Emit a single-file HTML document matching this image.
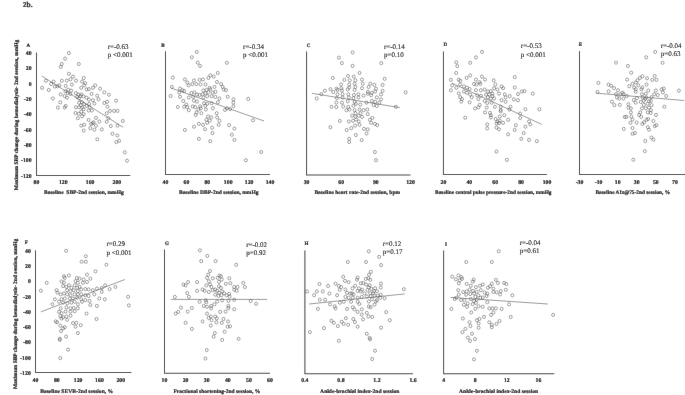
<!DOCTYPE html>
<html><head><meta charset="utf-8"><title>Figure 2b</title>
<style>html,body{margin:0;padding:0;background:#fff;}svg{display:block;filter:grayscale(1);}</style></head>
<body><svg width="685" height="395" viewBox="0 0 685 395" font-family='"Liberation Serif", serif' fill="#111" text-rendering="geometricPrecision">
<defs><filter id="b" x="0" y="0" width="1" height="1" filterUnits="objectBoundingBox"><feConvolveMatrix order="3" kernelMatrix="0.0016 0.0371 0.0016 0.0371 0.8450 0.0371 0.0016 0.0371 0.0016" edgeMode="duplicate"/></filter></defs>
<g filter="url(#b)"><rect width="685" height="395" fill="#fff"/>
<g fill="none" stroke="#444" stroke-width="0.5"><ellipse cx="68.9" cy="53.0" rx="1.5" ry="1.6"/><ellipse cx="65.1" cy="58.6" rx="1.5" ry="1.6"/><ellipse cx="61.8" cy="64.0" rx="1.5" ry="1.6"/><ellipse cx="60.7" cy="66.8" rx="1.5" ry="1.6"/><ellipse cx="78.8" cy="64.0" rx="1.5" ry="1.6"/><ellipse cx="68.9" cy="73.8" rx="1.5" ry="1.6"/><ellipse cx="73.0" cy="76.6" rx="1.5" ry="1.6"/><ellipse cx="83.7" cy="78.0" rx="1.5" ry="1.6"/><ellipse cx="70.5" cy="79.3" rx="1.5" ry="1.6"/><ellipse cx="66.8" cy="80.6" rx="1.5" ry="1.6"/><ellipse cx="76.0" cy="80.6" rx="1.5" ry="1.6"/><ellipse cx="61.8" cy="80.8" rx="1.5" ry="1.6"/><ellipse cx="45.9" cy="80.8" rx="1.5" ry="1.6"/><ellipse cx="53.6" cy="81.6" rx="1.5" ry="1.6"/><ellipse cx="51.1" cy="84.0" rx="1.5" ry="1.6"/><ellipse cx="57.4" cy="86.2" rx="1.5" ry="1.6"/><ellipse cx="59.5" cy="85.4" rx="1.5" ry="1.6"/><ellipse cx="54.9" cy="86.5" rx="1.5" ry="1.6"/><ellipse cx="82.1" cy="81.6" rx="1.5" ry="1.6"/><ellipse cx="85.3" cy="83.2" rx="1.5" ry="1.6"/><ellipse cx="84.2" cy="85.4" rx="1.5" ry="1.6"/><ellipse cx="71.9" cy="84.5" rx="1.5" ry="1.6"/><ellipse cx="65.6" cy="85.9" rx="1.5" ry="1.6"/><ellipse cx="42.1" cy="87.8" rx="1.5" ry="1.6"/><ellipse cx="48.8" cy="90.0" rx="1.5" ry="1.6"/><ellipse cx="52.9" cy="98.5" rx="1.5" ry="1.6"/><ellipse cx="57.9" cy="107.6" rx="1.5" ry="1.6"/><ellipse cx="95.2" cy="85.4" rx="1.5" ry="1.6"/><ellipse cx="100.1" cy="88.7" rx="1.5" ry="1.6"/><ellipse cx="104.3" cy="92.4" rx="1.5" ry="1.6"/><ellipse cx="108.9" cy="94.7" rx="1.5" ry="1.6"/><ellipse cx="97.2" cy="95.7" rx="1.5" ry="1.6"/><ellipse cx="60.7" cy="94.4" rx="1.5" ry="1.6"/><ellipse cx="60.3" cy="102.3" rx="1.5" ry="1.6"/><ellipse cx="98.5" cy="99.3" rx="1.5" ry="1.6"/><ellipse cx="94.4" cy="103.5" rx="1.5" ry="1.6"/><ellipse cx="83.7" cy="109.2" rx="1.5" ry="1.6"/><ellipse cx="81.2" cy="111.7" rx="1.5" ry="1.6"/><ellipse cx="104.3" cy="103.0" rx="1.5" ry="1.6"/><ellipse cx="107.1" cy="101.8" rx="1.5" ry="1.6"/><ellipse cx="116.1" cy="100.7" rx="1.5" ry="1.6"/><ellipse cx="107.5" cy="106.7" rx="1.5" ry="1.6"/><ellipse cx="110.0" cy="110.9" rx="1.5" ry="1.6"/><ellipse cx="114.1" cy="110.9" rx="1.5" ry="1.6"/><ellipse cx="117.4" cy="110.9" rx="1.5" ry="1.6"/><ellipse cx="88.6" cy="110.5" rx="1.5" ry="1.6"/><ellipse cx="91.9" cy="110.5" rx="1.5" ry="1.6"/><ellipse cx="75.5" cy="113.0" rx="1.5" ry="1.6"/><ellipse cx="78.8" cy="113.8" rx="1.5" ry="1.6"/><ellipse cx="83.7" cy="114.1" rx="1.5" ry="1.6"/><ellipse cx="106.7" cy="113.3" rx="1.5" ry="1.6"/><ellipse cx="77.9" cy="118.2" rx="1.5" ry="1.6"/><ellipse cx="82.1" cy="116.2" rx="1.5" ry="1.6"/><ellipse cx="88.6" cy="119.9" rx="1.5" ry="1.6"/><ellipse cx="96.0" cy="117.9" rx="1.5" ry="1.6"/><ellipse cx="99.3" cy="121.5" rx="1.5" ry="1.6"/><ellipse cx="92.7" cy="123.2" rx="1.5" ry="1.6"/><ellipse cx="91.1" cy="124.0" rx="1.5" ry="1.6"/><ellipse cx="81.2" cy="125.6" rx="1.5" ry="1.6"/><ellipse cx="84.2" cy="124.8" rx="1.5" ry="1.6"/><ellipse cx="90.3" cy="128.1" rx="1.5" ry="1.6"/><ellipse cx="94.4" cy="129.7" rx="1.5" ry="1.6"/><ellipse cx="83.7" cy="130.6" rx="1.5" ry="1.6"/><ellipse cx="101.8" cy="129.4" rx="1.5" ry="1.6"/><ellipse cx="106.7" cy="121.8" rx="1.5" ry="1.6"/><ellipse cx="108.4" cy="118.2" rx="1.5" ry="1.6"/><ellipse cx="110.8" cy="126.0" rx="1.5" ry="1.6"/><ellipse cx="117.4" cy="125.6" rx="1.5" ry="1.6"/><ellipse cx="122.8" cy="121.0" rx="1.5" ry="1.6"/><ellipse cx="112.5" cy="133.8" rx="1.5" ry="1.6"/><ellipse cx="117.4" cy="135.5" rx="1.5" ry="1.6"/><ellipse cx="119.1" cy="140.8" rx="1.5" ry="1.6"/><ellipse cx="116.3" cy="142.1" rx="1.5" ry="1.6"/><ellipse cx="97.3" cy="139.3" rx="1.5" ry="1.6"/><ellipse cx="124.8" cy="152.3" rx="1.5" ry="1.6"/><ellipse cx="127.0" cy="160.7" rx="1.5" ry="1.6"/><ellipse cx="96.0" cy="125.6" rx="1.5" ry="1.6"/><ellipse cx="93.6" cy="122.3" rx="1.5" ry="1.6"/><ellipse cx="81.2" cy="87.8" rx="1.5" ry="1.6"/><ellipse cx="86.6" cy="89.4" rx="1.5" ry="1.6"/><ellipse cx="88.8" cy="89.1" rx="1.5" ry="1.6"/><ellipse cx="92.9" cy="87.8" rx="1.5" ry="1.6"/><ellipse cx="65.4" cy="91.3" rx="1.5" ry="1.6"/><ellipse cx="68.2" cy="89.7" rx="1.5" ry="1.6"/><ellipse cx="71.1" cy="90.7" rx="1.5" ry="1.6"/><ellipse cx="67.6" cy="92.9" rx="1.5" ry="1.6"/><ellipse cx="70.4" cy="93.9" rx="1.5" ry="1.6"/><ellipse cx="75.8" cy="93.2" rx="1.5" ry="1.6"/><ellipse cx="78.4" cy="94.5" rx="1.5" ry="1.6"/><ellipse cx="80.3" cy="96.1" rx="1.5" ry="1.6"/><ellipse cx="77.1" cy="97.0" rx="1.5" ry="1.6"/><ellipse cx="79.0" cy="98.3" rx="1.5" ry="1.6"/><ellipse cx="81.5" cy="94.5" rx="1.5" ry="1.6"/><ellipse cx="83.4" cy="96.4" rx="1.5" ry="1.6"/><ellipse cx="91.6" cy="93.9" rx="1.5" ry="1.6"/><ellipse cx="86.6" cy="97.7" rx="1.5" ry="1.6"/><ellipse cx="88.8" cy="99.6" rx="1.5" ry="1.6"/><ellipse cx="92.9" cy="100.2" rx="1.5" ry="1.6"/><ellipse cx="64.7" cy="96.1" rx="1.5" ry="1.6"/><ellipse cx="67.0" cy="97.7" rx="1.5" ry="1.6"/><ellipse cx="79.0" cy="102.7" rx="1.5" ry="1.6"/><ellipse cx="81.8" cy="102.1" rx="1.5" ry="1.6"/><ellipse cx="84.1" cy="104.0" rx="1.5" ry="1.6"/><ellipse cx="80.9" cy="105.3" rx="1.5" ry="1.6"/><ellipse cx="75.8" cy="107.2" rx="1.5" ry="1.6"/><ellipse cx="79.0" cy="107.2" rx="1.5" ry="1.6"/><ellipse cx="82.2" cy="107.5" rx="1.5" ry="1.6"/><ellipse cx="86.6" cy="105.9" rx="1.5" ry="1.6"/><ellipse cx="89.1" cy="104.0" rx="1.5" ry="1.6"/><ellipse cx="89.7" cy="107.2" rx="1.5" ry="1.6"/><ellipse cx="65.7" cy="105.9" rx="1.5" ry="1.6"/><ellipse cx="64.7" cy="107.5" rx="1.5" ry="1.6"/><ellipse cx="196.8" cy="51.9" rx="1.5" ry="1.6"/><ellipse cx="191.8" cy="57.3" rx="1.5" ry="1.6"/><ellipse cx="197.7" cy="62.6" rx="1.5" ry="1.6"/><ellipse cx="200.0" cy="65.9" rx="1.5" ry="1.6"/><ellipse cx="226.9" cy="62.8" rx="1.5" ry="1.6"/><ellipse cx="172.9" cy="77.6" rx="1.5" ry="1.6"/><ellipse cx="184.9" cy="79.5" rx="1.5" ry="1.6"/><ellipse cx="187.4" cy="82.5" rx="1.5" ry="1.6"/><ellipse cx="194.0" cy="80.4" rx="1.5" ry="1.6"/><ellipse cx="199.7" cy="79.9" rx="1.5" ry="1.6"/><ellipse cx="203.0" cy="79.5" rx="1.5" ry="1.6"/><ellipse cx="208.4" cy="77.9" rx="1.5" ry="1.6"/><ellipse cx="210.4" cy="75.4" rx="1.5" ry="1.6"/><ellipse cx="213.7" cy="76.6" rx="1.5" ry="1.6"/><ellipse cx="217.8" cy="73.0" rx="1.5" ry="1.6"/><ellipse cx="188.5" cy="85.3" rx="1.5" ry="1.6"/><ellipse cx="192.3" cy="84.1" rx="1.5" ry="1.6"/><ellipse cx="196.4" cy="84.1" rx="1.5" ry="1.6"/><ellipse cx="200.5" cy="84.5" rx="1.5" ry="1.6"/><ellipse cx="205.5" cy="84.5" rx="1.5" ry="1.6"/><ellipse cx="209.6" cy="87.8" rx="1.5" ry="1.6"/><ellipse cx="214.5" cy="86.9" rx="1.5" ry="1.6"/><ellipse cx="217.0" cy="82.0" rx="1.5" ry="1.6"/><ellipse cx="221.1" cy="84.1" rx="1.5" ry="1.6"/><ellipse cx="222.7" cy="86.9" rx="1.5" ry="1.6"/><ellipse cx="226.0" cy="90.2" rx="1.5" ry="1.6"/><ellipse cx="223.6" cy="89.4" rx="1.5" ry="1.6"/><ellipse cx="171.8" cy="86.9" rx="1.5" ry="1.6"/><ellipse cx="180.0" cy="88.6" rx="1.5" ry="1.6"/><ellipse cx="182.4" cy="90.2" rx="1.5" ry="1.6"/><ellipse cx="179.2" cy="92.7" rx="1.5" ry="1.6"/><ellipse cx="184.1" cy="91.1" rx="1.5" ry="1.6"/><ellipse cx="170.6" cy="96.0" rx="1.5" ry="1.6"/><ellipse cx="180.0" cy="96.8" rx="1.5" ry="1.6"/><ellipse cx="219.5" cy="98.5" rx="1.5" ry="1.6"/><ellipse cx="227.7" cy="96.8" rx="1.5" ry="1.6"/><ellipse cx="233.4" cy="99.3" rx="1.5" ry="1.6"/><ellipse cx="233.4" cy="102.6" rx="1.5" ry="1.6"/><ellipse cx="248.2" cy="98.9" rx="1.5" ry="1.6"/><ellipse cx="183.3" cy="100.9" rx="1.5" ry="1.6"/><ellipse cx="233.4" cy="106.2" rx="1.5" ry="1.6"/><ellipse cx="177.8" cy="107.0" rx="1.5" ry="1.6"/><ellipse cx="184.1" cy="106.7" rx="1.5" ry="1.6"/><ellipse cx="226.9" cy="108.3" rx="1.5" ry="1.6"/><ellipse cx="230.1" cy="109.1" rx="1.5" ry="1.6"/><ellipse cx="196.5" cy="112.4" rx="1.5" ry="1.6"/><ellipse cx="195.7" cy="114.9" rx="1.5" ry="1.6"/><ellipse cx="201.4" cy="113.2" rx="1.5" ry="1.6"/><ellipse cx="216.7" cy="113.2" rx="1.5" ry="1.6"/><ellipse cx="217.1" cy="117.4" rx="1.5" ry="1.6"/><ellipse cx="219.5" cy="120.7" rx="1.5" ry="1.6"/><ellipse cx="218.7" cy="124.8" rx="1.5" ry="1.6"/><ellipse cx="208.0" cy="116.5" rx="1.5" ry="1.6"/><ellipse cx="211.3" cy="117.4" rx="1.5" ry="1.6"/><ellipse cx="206.4" cy="119.8" rx="1.5" ry="1.6"/><ellipse cx="209.7" cy="120.7" rx="1.5" ry="1.6"/><ellipse cx="207.2" cy="122.8" rx="1.5" ry="1.6"/><ellipse cx="198.9" cy="123.9" rx="1.5" ry="1.6"/><ellipse cx="203.1" cy="124.8" rx="1.5" ry="1.6"/><ellipse cx="194.0" cy="126.7" rx="1.5" ry="1.6"/><ellipse cx="184.9" cy="130.0" rx="1.5" ry="1.6"/><ellipse cx="205.0" cy="129.2" rx="1.5" ry="1.6"/><ellipse cx="212.1" cy="127.7" rx="1.5" ry="1.6"/><ellipse cx="212.5" cy="133.0" rx="1.5" ry="1.6"/><ellipse cx="229.1" cy="125.1" rx="1.5" ry="1.6"/><ellipse cx="234.4" cy="128.6" rx="1.5" ry="1.6"/><ellipse cx="231.9" cy="134.7" rx="1.5" ry="1.6"/><ellipse cx="234.4" cy="139.9" rx="1.5" ry="1.6"/><ellipse cx="198.9" cy="138.8" rx="1.5" ry="1.6"/><ellipse cx="210.2" cy="141.2" rx="1.5" ry="1.6"/><ellipse cx="253.0" cy="120.2" rx="1.5" ry="1.6"/><ellipse cx="261.2" cy="152.0" rx="1.5" ry="1.6"/><ellipse cx="245.9" cy="160.2" rx="1.5" ry="1.6"/><ellipse cx="225.0" cy="109.9" rx="1.5" ry="1.6"/><ellipse cx="203.4" cy="90.5" rx="1.5" ry="1.6"/><ellipse cx="206.5" cy="89.9" rx="1.5" ry="1.6"/><ellipse cx="210.3" cy="89.3" rx="1.5" ry="1.6"/><ellipse cx="191.3" cy="93.1" rx="1.5" ry="1.6"/><ellipse cx="194.5" cy="92.4" rx="1.5" ry="1.6"/><ellipse cx="197.0" cy="94.6" rx="1.5" ry="1.6"/><ellipse cx="199.6" cy="95.0" rx="1.5" ry="1.6"/><ellipse cx="202.7" cy="94.3" rx="1.5" ry="1.6"/><ellipse cx="205.3" cy="93.4" rx="1.5" ry="1.6"/><ellipse cx="208.4" cy="92.4" rx="1.5" ry="1.6"/><ellipse cx="212.8" cy="92.7" rx="1.5" ry="1.6"/><ellipse cx="215.4" cy="91.8" rx="1.5" ry="1.6"/><ellipse cx="188.8" cy="97.5" rx="1.5" ry="1.6"/><ellipse cx="193.2" cy="96.9" rx="1.5" ry="1.6"/><ellipse cx="203.4" cy="97.5" rx="1.5" ry="1.6"/><ellipse cx="207.2" cy="96.2" rx="1.5" ry="1.6"/><ellipse cx="211.6" cy="96.2" rx="1.5" ry="1.6"/><ellipse cx="215.4" cy="96.9" rx="1.5" ry="1.6"/><ellipse cx="193.9" cy="100.7" rx="1.5" ry="1.6"/><ellipse cx="197.0" cy="101.6" rx="1.5" ry="1.6"/><ellipse cx="217.9" cy="102.2" rx="1.5" ry="1.6"/><ellipse cx="211.6" cy="103.2" rx="1.5" ry="1.6"/><ellipse cx="207.2" cy="103.8" rx="1.5" ry="1.6"/><ellipse cx="204.0" cy="103.2" rx="1.5" ry="1.6"/><ellipse cx="186.3" cy="104.5" rx="1.5" ry="1.6"/><ellipse cx="187.2" cy="107.0" rx="1.5" ry="1.6"/><ellipse cx="192.6" cy="106.4" rx="1.5" ry="1.6"/><ellipse cx="195.1" cy="107.0" rx="1.5" ry="1.6"/><ellipse cx="200.2" cy="106.4" rx="1.5" ry="1.6"/><ellipse cx="205.3" cy="105.7" rx="1.5" ry="1.6"/><ellipse cx="188.8" cy="110.2" rx="1.5" ry="1.6"/><ellipse cx="198.3" cy="109.5" rx="1.5" ry="1.6"/><ellipse cx="200.8" cy="108.3" rx="1.5" ry="1.6"/><ellipse cx="205.9" cy="109.5" rx="1.5" ry="1.6"/><ellipse cx="212.8" cy="108.3" rx="1.5" ry="1.6"/><ellipse cx="352.6" cy="52.4" rx="1.5" ry="1.6"/><ellipse cx="338.9" cy="57.7" rx="1.5" ry="1.6"/><ellipse cx="341.9" cy="63.1" rx="1.5" ry="1.6"/><ellipse cx="352.6" cy="65.9" rx="1.5" ry="1.6"/><ellipse cx="381.3" cy="63.1" rx="1.5" ry="1.6"/><ellipse cx="359.5" cy="73.0" rx="1.5" ry="1.6"/><ellipse cx="332.9" cy="77.9" rx="1.5" ry="1.6"/><ellipse cx="348.0" cy="76.0" rx="1.5" ry="1.6"/><ellipse cx="353.8" cy="76.6" rx="1.5" ry="1.6"/><ellipse cx="344.4" cy="79.9" rx="1.5" ry="1.6"/><ellipse cx="349.7" cy="80.4" rx="1.5" ry="1.6"/><ellipse cx="355.4" cy="80.4" rx="1.5" ry="1.6"/><ellipse cx="362.0" cy="79.6" rx="1.5" ry="1.6"/><ellipse cx="384.7" cy="78.8" rx="1.5" ry="1.6"/><ellipse cx="362.8" cy="83.7" rx="1.5" ry="1.6"/><ellipse cx="341.1" cy="84.5" rx="1.5" ry="1.6"/><ellipse cx="349.2" cy="84.5" rx="1.5" ry="1.6"/><ellipse cx="354.6" cy="83.7" rx="1.5" ry="1.6"/><ellipse cx="370.3" cy="83.7" rx="1.5" ry="1.6"/><ellipse cx="374.4" cy="84.9" rx="1.5" ry="1.6"/><ellipse cx="382.6" cy="84.9" rx="1.5" ry="1.6"/><ellipse cx="368.6" cy="87.0" rx="1.5" ry="1.6"/><ellipse cx="376.0" cy="88.7" rx="1.5" ry="1.6"/><ellipse cx="362.0" cy="88.2" rx="1.5" ry="1.6"/><ellipse cx="355.4" cy="87.0" rx="1.5" ry="1.6"/><ellipse cx="349.2" cy="87.5" rx="1.5" ry="1.6"/><ellipse cx="324.9" cy="90.8" rx="1.5" ry="1.6"/><ellipse cx="330.4" cy="89.2" rx="1.5" ry="1.6"/><ellipse cx="336.5" cy="88.7" rx="1.5" ry="1.6"/><ellipse cx="341.4" cy="88.2" rx="1.5" ry="1.6"/><ellipse cx="371.9" cy="92.8" rx="1.5" ry="1.6"/><ellipse cx="375.2" cy="91.5" rx="1.5" ry="1.6"/><ellipse cx="382.6" cy="90.8" rx="1.5" ry="1.6"/><ellipse cx="405.7" cy="92.4" rx="1.5" ry="1.6"/><ellipse cx="321.3" cy="94.1" rx="1.5" ry="1.6"/><ellipse cx="316.7" cy="98.5" rx="1.5" ry="1.6"/><ellipse cx="333.2" cy="92.0" rx="1.5" ry="1.6"/><ellipse cx="371.1" cy="95.2" rx="1.5" ry="1.6"/><ellipse cx="381.0" cy="94.4" rx="1.5" ry="1.6"/><ellipse cx="376.8" cy="97.4" rx="1.5" ry="1.6"/><ellipse cx="381.0" cy="99.4" rx="1.5" ry="1.6"/><ellipse cx="371.9" cy="101.0" rx="1.5" ry="1.6"/><ellipse cx="375.2" cy="101.8" rx="1.5" ry="1.6"/><ellipse cx="379.3" cy="102.7" rx="1.5" ry="1.6"/><ellipse cx="373.5" cy="105.1" rx="1.5" ry="1.6"/><ellipse cx="376.8" cy="106.0" rx="1.5" ry="1.6"/><ellipse cx="395.8" cy="106.8" rx="1.5" ry="1.6"/><ellipse cx="331.5" cy="106.8" rx="1.5" ry="1.6"/><ellipse cx="355.4" cy="113.2" rx="1.5" ry="1.6"/><ellipse cx="360.4" cy="113.2" rx="1.5" ry="1.6"/><ellipse cx="367.8" cy="114.1" rx="1.5" ry="1.6"/><ellipse cx="352.1" cy="115.7" rx="1.5" ry="1.6"/><ellipse cx="355.4" cy="116.5" rx="1.5" ry="1.6"/><ellipse cx="358.7" cy="115.7" rx="1.5" ry="1.6"/><ellipse cx="362.0" cy="116.9" rx="1.5" ry="1.6"/><ellipse cx="348.8" cy="121.5" rx="1.5" ry="1.6"/><ellipse cx="353.0" cy="120.7" rx="1.5" ry="1.6"/><ellipse cx="356.2" cy="119.5" rx="1.5" ry="1.6"/><ellipse cx="358.7" cy="121.5" rx="1.5" ry="1.6"/><ellipse cx="369.9" cy="119.8" rx="1.5" ry="1.6"/><ellipse cx="372.4" cy="117.9" rx="1.5" ry="1.6"/><ellipse cx="371.1" cy="122.8" rx="1.5" ry="1.6"/><ellipse cx="374.9" cy="123.9" rx="1.5" ry="1.6"/><ellipse cx="377.2" cy="125.1" rx="1.5" ry="1.6"/><ellipse cx="339.8" cy="121.0" rx="1.5" ry="1.6"/><ellipse cx="330.4" cy="127.2" rx="1.5" ry="1.6"/><ellipse cx="346.7" cy="130.0" rx="1.5" ry="1.6"/><ellipse cx="351.3" cy="128.1" rx="1.5" ry="1.6"/><ellipse cx="355.1" cy="125.6" rx="1.5" ry="1.6"/><ellipse cx="359.5" cy="124.8" rx="1.5" ry="1.6"/><ellipse cx="364.0" cy="128.9" rx="1.5" ry="1.6"/><ellipse cx="367.8" cy="129.4" rx="1.5" ry="1.6"/><ellipse cx="366.6" cy="133.5" rx="1.5" ry="1.6"/><ellipse cx="355.9" cy="135.0" rx="1.5" ry="1.6"/><ellipse cx="349.2" cy="138.8" rx="1.5" ry="1.6"/><ellipse cx="349.2" cy="142.1" rx="1.5" ry="1.6"/><ellipse cx="361.7" cy="140.1" rx="1.5" ry="1.6"/><ellipse cx="374.9" cy="152.0" rx="1.5" ry="1.6"/><ellipse cx="376.0" cy="160.2" rx="1.5" ry="1.6"/><ellipse cx="337.5" cy="89.9" rx="1.5" ry="1.6"/><ellipse cx="342.0" cy="90.5" rx="1.5" ry="1.6"/><ellipse cx="347.7" cy="89.3" rx="1.5" ry="1.6"/><ellipse cx="354.6" cy="89.9" rx="1.5" ry="1.6"/><ellipse cx="367.9" cy="91.8" rx="1.5" ry="1.6"/><ellipse cx="337.5" cy="94.3" rx="1.5" ry="1.6"/><ellipse cx="342.6" cy="94.3" rx="1.5" ry="1.6"/><ellipse cx="348.3" cy="94.3" rx="1.5" ry="1.6"/><ellipse cx="354.0" cy="95.0" rx="1.5" ry="1.6"/><ellipse cx="358.4" cy="94.3" rx="1.5" ry="1.6"/><ellipse cx="363.5" cy="95.6" rx="1.5" ry="1.6"/><ellipse cx="367.9" cy="93.7" rx="1.5" ry="1.6"/><ellipse cx="336.9" cy="98.1" rx="1.5" ry="1.6"/><ellipse cx="342.6" cy="97.5" rx="1.5" ry="1.6"/><ellipse cx="348.9" cy="97.5" rx="1.5" ry="1.6"/><ellipse cx="353.4" cy="98.1" rx="1.5" ry="1.6"/><ellipse cx="358.4" cy="97.5" rx="1.5" ry="1.6"/><ellipse cx="336.3" cy="102.6" rx="1.5" ry="1.6"/><ellipse cx="342.0" cy="102.6" rx="1.5" ry="1.6"/><ellipse cx="347.7" cy="101.3" rx="1.5" ry="1.6"/><ellipse cx="354.6" cy="101.9" rx="1.5" ry="1.6"/><ellipse cx="360.3" cy="104.5" rx="1.5" ry="1.6"/><ellipse cx="366.6" cy="102.6" rx="1.5" ry="1.6"/><ellipse cx="336.3" cy="107.0" rx="1.5" ry="1.6"/><ellipse cx="343.2" cy="106.4" rx="1.5" ry="1.6"/><ellipse cx="348.3" cy="107.0" rx="1.5" ry="1.6"/><ellipse cx="353.4" cy="105.7" rx="1.5" ry="1.6"/><ellipse cx="355.9" cy="103.8" rx="1.5" ry="1.6"/><ellipse cx="346.4" cy="110.2" rx="1.5" ry="1.6"/><ellipse cx="349.6" cy="109.5" rx="1.5" ry="1.6"/><ellipse cx="354.6" cy="110.2" rx="1.5" ry="1.6"/><ellipse cx="359.7" cy="109.5" rx="1.5" ry="1.6"/><ellipse cx="363.5" cy="110.2" rx="1.5" ry="1.6"/><ellipse cx="367.3" cy="109.5" rx="1.5" ry="1.6"/><ellipse cx="482.0" cy="51.9" rx="1.5" ry="1.6"/><ellipse cx="475.9" cy="57.4" rx="1.5" ry="1.6"/><ellipse cx="470.2" cy="62.8" rx="1.5" ry="1.6"/><ellipse cx="456.2" cy="62.3" rx="1.5" ry="1.6"/><ellipse cx="457.3" cy="66.1" rx="1.5" ry="1.6"/><ellipse cx="456.2" cy="73.0" rx="1.5" ry="1.6"/><ellipse cx="470.2" cy="75.5" rx="1.5" ry="1.6"/><ellipse cx="466.6" cy="77.9" rx="1.5" ry="1.6"/><ellipse cx="482.0" cy="76.6" rx="1.5" ry="1.6"/><ellipse cx="485.0" cy="79.6" rx="1.5" ry="1.6"/><ellipse cx="475.9" cy="79.6" rx="1.5" ry="1.6"/><ellipse cx="479.6" cy="82.1" rx="1.5" ry="1.6"/><ellipse cx="493.7" cy="80.4" rx="1.5" ry="1.6"/><ellipse cx="514.7" cy="77.1" rx="1.5" ry="1.6"/><ellipse cx="450.9" cy="79.9" rx="1.5" ry="1.6"/><ellipse cx="458.7" cy="79.6" rx="1.5" ry="1.6"/><ellipse cx="460.3" cy="80.9" rx="1.5" ry="1.6"/><ellipse cx="452.1" cy="85.4" rx="1.5" ry="1.6"/><ellipse cx="450.9" cy="90.3" rx="1.5" ry="1.6"/><ellipse cx="490.8" cy="91.1" rx="1.5" ry="1.6"/><ellipse cx="495.4" cy="84.5" rx="1.5" ry="1.6"/><ellipse cx="494.1" cy="88.2" rx="1.5" ry="1.6"/><ellipse cx="497.4" cy="89.5" rx="1.5" ry="1.6"/><ellipse cx="501.5" cy="86.5" rx="1.5" ry="1.6"/><ellipse cx="503.1" cy="88.2" rx="1.5" ry="1.6"/><ellipse cx="514.7" cy="87.5" rx="1.5" ry="1.6"/><ellipse cx="521.7" cy="91.5" rx="1.5" ry="1.6"/><ellipse cx="524.5" cy="91.1" rx="1.5" ry="1.6"/><ellipse cx="532.8" cy="93.6" rx="1.5" ry="1.6"/><ellipse cx="518.0" cy="94.1" rx="1.5" ry="1.6"/><ellipse cx="489.1" cy="94.4" rx="1.5" ry="1.6"/><ellipse cx="492.4" cy="93.6" rx="1.5" ry="1.6"/><ellipse cx="499.0" cy="93.6" rx="1.5" ry="1.6"/><ellipse cx="504.8" cy="94.4" rx="1.5" ry="1.6"/><ellipse cx="505.6" cy="97.4" rx="1.5" ry="1.6"/><ellipse cx="509.7" cy="96.1" rx="1.5" ry="1.6"/><ellipse cx="513.8" cy="99.4" rx="1.5" ry="1.6"/><ellipse cx="518.0" cy="100.2" rx="1.5" ry="1.6"/><ellipse cx="490.8" cy="98.5" rx="1.5" ry="1.6"/><ellipse cx="492.4" cy="96.1" rx="1.5" ry="1.6"/><ellipse cx="494.1" cy="98.5" rx="1.5" ry="1.6"/><ellipse cx="491.6" cy="102.7" rx="1.5" ry="1.6"/><ellipse cx="501.5" cy="100.2" rx="1.5" ry="1.6"/><ellipse cx="505.6" cy="101.8" rx="1.5" ry="1.6"/><ellipse cx="475.1" cy="108.4" rx="1.5" ry="1.6"/><ellipse cx="478.4" cy="107.3" rx="1.5" ry="1.6"/><ellipse cx="486.7" cy="107.6" rx="1.5" ry="1.6"/><ellipse cx="494.9" cy="106.8" rx="1.5" ry="1.6"/><ellipse cx="500.7" cy="106.8" rx="1.5" ry="1.6"/><ellipse cx="510.5" cy="106.8" rx="1.5" ry="1.6"/><ellipse cx="525.4" cy="109.3" rx="1.5" ry="1.6"/><ellipse cx="539.4" cy="109.3" rx="1.5" ry="1.6"/><ellipse cx="485.0" cy="112.4" rx="1.5" ry="1.6"/><ellipse cx="490.0" cy="112.9" rx="1.5" ry="1.6"/><ellipse cx="490.8" cy="115.2" rx="1.5" ry="1.6"/><ellipse cx="490.8" cy="117.4" rx="1.5" ry="1.6"/><ellipse cx="495.7" cy="119.0" rx="1.5" ry="1.6"/><ellipse cx="497.4" cy="121.5" rx="1.5" ry="1.6"/><ellipse cx="499.8" cy="116.5" rx="1.5" ry="1.6"/><ellipse cx="499.8" cy="120.7" rx="1.5" ry="1.6"/><ellipse cx="499.0" cy="123.1" rx="1.5" ry="1.6"/><ellipse cx="503.1" cy="122.8" rx="1.5" ry="1.6"/><ellipse cx="504.3" cy="115.2" rx="1.5" ry="1.6"/><ellipse cx="508.1" cy="119.8" rx="1.5" ry="1.6"/><ellipse cx="500.7" cy="109.9" rx="1.5" ry="1.6"/><ellipse cx="487.2" cy="124.4" rx="1.5" ry="1.6"/><ellipse cx="487.2" cy="128.4" rx="1.5" ry="1.6"/><ellipse cx="496.5" cy="123.5" rx="1.5" ry="1.6"/><ellipse cx="496.5" cy="127.6" rx="1.5" ry="1.6"/><ellipse cx="499.0" cy="129.2" rx="1.5" ry="1.6"/><ellipse cx="520.1" cy="113.6" rx="1.5" ry="1.6"/><ellipse cx="520.1" cy="117.9" rx="1.5" ry="1.6"/><ellipse cx="529.0" cy="121.5" rx="1.5" ry="1.6"/><ellipse cx="530.3" cy="124.4" rx="1.5" ry="1.6"/><ellipse cx="515.8" cy="125.3" rx="1.5" ry="1.6"/><ellipse cx="525.4" cy="126.7" rx="1.5" ry="1.6"/><ellipse cx="514.7" cy="130.0" rx="1.5" ry="1.6"/><ellipse cx="523.7" cy="133.0" rx="1.5" ry="1.6"/><ellipse cx="508.1" cy="134.3" rx="1.5" ry="1.6"/><ellipse cx="521.3" cy="138.8" rx="1.5" ry="1.6"/><ellipse cx="529.0" cy="139.9" rx="1.5" ry="1.6"/><ellipse cx="536.9" cy="141.2" rx="1.5" ry="1.6"/><ellipse cx="465.2" cy="117.7" rx="1.5" ry="1.6"/><ellipse cx="496.5" cy="151.5" rx="1.5" ry="1.6"/><ellipse cx="506.9" cy="159.9" rx="1.5" ry="1.6"/><ellipse cx="509.4" cy="109.6" rx="1.5" ry="1.6"/><ellipse cx="500.7" cy="111.3" rx="1.5" ry="1.6"/><ellipse cx="460.1" cy="84.5" rx="1.5" ry="1.6"/><ellipse cx="463.9" cy="86.4" rx="1.5" ry="1.6"/><ellipse cx="467.0" cy="87.7" rx="1.5" ry="1.6"/><ellipse cx="469.6" cy="89.0" rx="1.5" ry="1.6"/><ellipse cx="463.9" cy="91.5" rx="1.5" ry="1.6"/><ellipse cx="467.0" cy="92.8" rx="1.5" ry="1.6"/><ellipse cx="470.2" cy="94.7" rx="1.5" ry="1.6"/><ellipse cx="458.8" cy="93.4" rx="1.5" ry="1.6"/><ellipse cx="460.1" cy="97.2" rx="1.5" ry="1.6"/><ellipse cx="462.0" cy="99.1" rx="1.5" ry="1.6"/><ellipse cx="461.3" cy="101.6" rx="1.5" ry="1.6"/><ellipse cx="469.6" cy="102.3" rx="1.5" ry="1.6"/><ellipse cx="471.8" cy="97.2" rx="1.5" ry="1.6"/><ellipse cx="475.9" cy="90.2" rx="1.5" ry="1.6"/><ellipse cx="477.2" cy="95.3" rx="1.5" ry="1.6"/><ellipse cx="478.4" cy="99.1" rx="1.5" ry="1.6"/><ellipse cx="480.9" cy="90.2" rx="1.5" ry="1.6"/><ellipse cx="480.9" cy="95.9" rx="1.5" ry="1.6"/><ellipse cx="484.7" cy="89.6" rx="1.5" ry="1.6"/><ellipse cx="486.0" cy="94.7" rx="1.5" ry="1.6"/><ellipse cx="487.9" cy="91.5" rx="1.5" ry="1.6"/><ellipse cx="487.9" cy="97.2" rx="1.5" ry="1.6"/><ellipse cx="484.7" cy="101.0" rx="1.5" ry="1.6"/><ellipse cx="487.3" cy="102.9" rx="1.5" ry="1.6"/><ellipse cx="479.7" cy="104.8" rx="1.5" ry="1.6"/><ellipse cx="474.0" cy="83.9" rx="1.5" ry="1.6"/><ellipse cx="476.5" cy="84.5" rx="1.5" ry="1.6"/><ellipse cx="480.3" cy="83.9" rx="1.5" ry="1.6"/><ellipse cx="456.3" cy="87.7" rx="1.5" ry="1.6"/><ellipse cx="655.2" cy="51.9" rx="1.5" ry="1.6"/><ellipse cx="646.2" cy="57.3" rx="1.5" ry="1.6"/><ellipse cx="662.6" cy="62.8" rx="1.5" ry="1.6"/><ellipse cx="616.0" cy="62.6" rx="1.5" ry="1.6"/><ellipse cx="627.9" cy="65.9" rx="1.5" ry="1.6"/><ellipse cx="631.2" cy="72.7" rx="1.5" ry="1.6"/><ellipse cx="654.7" cy="75.9" rx="1.5" ry="1.6"/><ellipse cx="642.4" cy="76.3" rx="1.5" ry="1.6"/><ellipse cx="639.9" cy="77.9" rx="1.5" ry="1.6"/><ellipse cx="647.0" cy="78.3" rx="1.5" ry="1.6"/><ellipse cx="652.3" cy="79.9" rx="1.5" ry="1.6"/><ellipse cx="656.4" cy="79.9" rx="1.5" ry="1.6"/><ellipse cx="627.1" cy="79.6" rx="1.5" ry="1.6"/><ellipse cx="637.4" cy="80.4" rx="1.5" ry="1.6"/><ellipse cx="635.8" cy="82.5" rx="1.5" ry="1.6"/><ellipse cx="632.5" cy="83.7" rx="1.5" ry="1.6"/><ellipse cx="629.2" cy="86.2" rx="1.5" ry="1.6"/><ellipse cx="638.3" cy="85.3" rx="1.5" ry="1.6"/><ellipse cx="646.5" cy="84.5" rx="1.5" ry="1.6"/><ellipse cx="598.4" cy="82.9" rx="1.5" ry="1.6"/><ellipse cx="608.6" cy="84.5" rx="1.5" ry="1.6"/><ellipse cx="611.1" cy="85.8" rx="1.5" ry="1.6"/><ellipse cx="614.1" cy="88.1" rx="1.5" ry="1.6"/><ellipse cx="618.0" cy="90.3" rx="1.5" ry="1.6"/><ellipse cx="622.6" cy="92.7" rx="1.5" ry="1.6"/><ellipse cx="608.6" cy="91.4" rx="1.5" ry="1.6"/><ellipse cx="597.4" cy="91.9" rx="1.5" ry="1.6"/><ellipse cx="634.1" cy="87.5" rx="1.5" ry="1.6"/><ellipse cx="642.4" cy="87.5" rx="1.5" ry="1.6"/><ellipse cx="663.8" cy="88.6" rx="1.5" ry="1.6"/><ellipse cx="678.9" cy="90.6" rx="1.5" ry="1.6"/><ellipse cx="616.0" cy="94.1" rx="1.5" ry="1.6"/><ellipse cx="620.2" cy="94.4" rx="1.5" ry="1.6"/><ellipse cx="623.4" cy="94.1" rx="1.5" ry="1.6"/><ellipse cx="626.7" cy="96.0" rx="1.5" ry="1.6"/><ellipse cx="616.9" cy="97.3" rx="1.5" ry="1.6"/><ellipse cx="619.3" cy="98.5" rx="1.5" ry="1.6"/><ellipse cx="623.4" cy="98.5" rx="1.5" ry="1.6"/><ellipse cx="666.2" cy="96.0" rx="1.5" ry="1.6"/><ellipse cx="611.9" cy="101.8" rx="1.5" ry="1.6"/><ellipse cx="614.4" cy="105.1" rx="1.5" ry="1.6"/><ellipse cx="619.8" cy="104.8" rx="1.5" ry="1.6"/><ellipse cx="628.4" cy="104.3" rx="1.5" ry="1.6"/><ellipse cx="628.4" cy="107.6" rx="1.5" ry="1.6"/><ellipse cx="630.9" cy="108.4" rx="1.5" ry="1.6"/><ellipse cx="664.3" cy="106.7" rx="1.5" ry="1.6"/><ellipse cx="630.9" cy="112.4" rx="1.5" ry="1.6"/><ellipse cx="624.8" cy="116.9" rx="1.5" ry="1.6"/><ellipse cx="626.4" cy="116.9" rx="1.5" ry="1.6"/><ellipse cx="631.3" cy="116.5" rx="1.5" ry="1.6"/><ellipse cx="632.5" cy="119.5" rx="1.5" ry="1.6"/><ellipse cx="630.5" cy="122.8" rx="1.5" ry="1.6"/><ellipse cx="636.6" cy="122.6" rx="1.5" ry="1.6"/><ellipse cx="639.1" cy="114.9" rx="1.5" ry="1.6"/><ellipse cx="640.2" cy="112.4" rx="1.5" ry="1.6"/><ellipse cx="641.2" cy="116.9" rx="1.5" ry="1.6"/><ellipse cx="647.8" cy="112.4" rx="1.5" ry="1.6"/><ellipse cx="650.6" cy="112.9" rx="1.5" ry="1.6"/><ellipse cx="642.4" cy="123.9" rx="1.5" ry="1.6"/><ellipse cx="644.0" cy="122.3" rx="1.5" ry="1.6"/><ellipse cx="646.5" cy="119.8" rx="1.5" ry="1.6"/><ellipse cx="648.1" cy="119.0" rx="1.5" ry="1.6"/><ellipse cx="653.4" cy="121.0" rx="1.5" ry="1.6"/><ellipse cx="656.0" cy="114.9" rx="1.5" ry="1.6"/><ellipse cx="654.7" cy="126.1" rx="1.5" ry="1.6"/><ellipse cx="656.4" cy="125.1" rx="1.5" ry="1.6"/><ellipse cx="647.8" cy="127.2" rx="1.5" ry="1.6"/><ellipse cx="649.0" cy="129.7" rx="1.5" ry="1.6"/><ellipse cx="632.5" cy="128.0" rx="1.5" ry="1.6"/><ellipse cx="623.8" cy="128.9" rx="1.5" ry="1.6"/><ellipse cx="632.5" cy="133.8" rx="1.5" ry="1.6"/><ellipse cx="635.0" cy="133.0" rx="1.5" ry="1.6"/><ellipse cx="645.3" cy="140.9" rx="1.5" ry="1.6"/><ellipse cx="651.4" cy="137.6" rx="1.5" ry="1.6"/><ellipse cx="653.4" cy="139.6" rx="1.5" ry="1.6"/><ellipse cx="644.8" cy="151.1" rx="1.5" ry="1.6"/><ellipse cx="633.3" cy="159.7" rx="1.5" ry="1.6"/><ellipse cx="635.7" cy="91.8" rx="1.5" ry="1.6"/><ellipse cx="635.7" cy="89.3" rx="1.5" ry="1.6"/><ellipse cx="641.4" cy="89.3" rx="1.5" ry="1.6"/><ellipse cx="648.4" cy="90.5" rx="1.5" ry="1.6"/><ellipse cx="655.9" cy="90.5" rx="1.5" ry="1.6"/><ellipse cx="661.6" cy="89.3" rx="1.5" ry="1.6"/><ellipse cx="662.9" cy="92.4" rx="1.5" ry="1.6"/><ellipse cx="642.0" cy="94.3" rx="1.5" ry="1.6"/><ellipse cx="645.8" cy="93.7" rx="1.5" ry="1.6"/><ellipse cx="654.1" cy="94.3" rx="1.5" ry="1.6"/><ellipse cx="657.8" cy="95.0" rx="1.5" ry="1.6"/><ellipse cx="651.5" cy="97.2" rx="1.5" ry="1.6"/><ellipse cx="642.7" cy="97.5" rx="1.5" ry="1.6"/><ellipse cx="646.5" cy="97.5" rx="1.5" ry="1.6"/><ellipse cx="633.8" cy="100.0" rx="1.5" ry="1.6"/><ellipse cx="637.0" cy="98.1" rx="1.5" ry="1.6"/><ellipse cx="635.7" cy="102.6" rx="1.5" ry="1.6"/><ellipse cx="640.8" cy="101.9" rx="1.5" ry="1.6"/><ellipse cx="643.9" cy="100.7" rx="1.5" ry="1.6"/><ellipse cx="645.2" cy="98.8" rx="1.5" ry="1.6"/><ellipse cx="649.0" cy="101.3" rx="1.5" ry="1.6"/><ellipse cx="650.9" cy="100.7" rx="1.5" ry="1.6"/><ellipse cx="643.9" cy="104.8" rx="1.5" ry="1.6"/><ellipse cx="647.7" cy="103.8" rx="1.5" ry="1.6"/><ellipse cx="651.5" cy="105.1" rx="1.5" ry="1.6"/><ellipse cx="642.0" cy="108.3" rx="1.5" ry="1.6"/><ellipse cx="645.8" cy="108.3" rx="1.5" ry="1.6"/><ellipse cx="649.0" cy="107.6" rx="1.5" ry="1.6"/><ellipse cx="650.9" cy="110.2" rx="1.5" ry="1.6"/><ellipse cx="66.1" cy="250.8" rx="1.5" ry="1.6"/><ellipse cx="85.8" cy="256.2" rx="1.5" ry="1.6"/><ellipse cx="81.6" cy="261.8" rx="1.5" ry="1.6"/><ellipse cx="85.8" cy="261.8" rx="1.5" ry="1.6"/><ellipse cx="106.4" cy="264.7" rx="1.5" ry="1.6"/><ellipse cx="95.5" cy="271.3" rx="1.5" ry="1.6"/><ellipse cx="64.0" cy="276.2" rx="1.5" ry="1.6"/><ellipse cx="68.9" cy="275.4" rx="1.5" ry="1.6"/><ellipse cx="64.8" cy="277.9" rx="1.5" ry="1.6"/><ellipse cx="87.0" cy="274.6" rx="1.5" ry="1.6"/><ellipse cx="90.3" cy="278.7" rx="1.5" ry="1.6"/><ellipse cx="76.8" cy="277.9" rx="1.5" ry="1.6"/><ellipse cx="79.6" cy="278.7" rx="1.5" ry="1.6"/><ellipse cx="83.7" cy="279.5" rx="1.5" ry="1.6"/><ellipse cx="46.7" cy="282.8" rx="1.5" ry="1.6"/><ellipse cx="61.5" cy="281.5" rx="1.5" ry="1.6"/><ellipse cx="64.0" cy="282.5" rx="1.5" ry="1.6"/><ellipse cx="75.5" cy="281.2" rx="1.5" ry="1.6"/><ellipse cx="77.9" cy="282.8" rx="1.5" ry="1.6"/><ellipse cx="82.9" cy="282.8" rx="1.5" ry="1.6"/><ellipse cx="87.0" cy="282.0" rx="1.5" ry="1.6"/><ellipse cx="40.9" cy="290.7" rx="1.5" ry="1.6"/><ellipse cx="56.6" cy="290.2" rx="1.5" ry="1.6"/><ellipse cx="57.4" cy="292.7" rx="1.5" ry="1.6"/><ellipse cx="63.1" cy="286.1" rx="1.5" ry="1.6"/><ellipse cx="66.4" cy="286.9" rx="1.5" ry="1.6"/><ellipse cx="68.9" cy="285.3" rx="1.5" ry="1.6"/><ellipse cx="71.4" cy="287.8" rx="1.5" ry="1.6"/><ellipse cx="74.7" cy="285.3" rx="1.5" ry="1.6"/><ellipse cx="77.1" cy="287.8" rx="1.5" ry="1.6"/><ellipse cx="79.6" cy="286.9" rx="1.5" ry="1.6"/><ellipse cx="67.2" cy="290.2" rx="1.5" ry="1.6"/><ellipse cx="70.5" cy="291.1" rx="1.5" ry="1.6"/><ellipse cx="73.8" cy="290.2" rx="1.5" ry="1.6"/><ellipse cx="77.9" cy="291.1" rx="1.5" ry="1.6"/><ellipse cx="81.2" cy="289.4" rx="1.5" ry="1.6"/><ellipse cx="85.3" cy="289.1" rx="1.5" ry="1.6"/><ellipse cx="88.6" cy="289.4" rx="1.5" ry="1.6"/><ellipse cx="92.7" cy="290.2" rx="1.5" ry="1.6"/><ellipse cx="96.9" cy="288.6" rx="1.5" ry="1.6"/><ellipse cx="101.8" cy="288.1" rx="1.5" ry="1.6"/><ellipse cx="105.1" cy="285.3" rx="1.5" ry="1.6"/><ellipse cx="109.7" cy="289.1" rx="1.5" ry="1.6"/><ellipse cx="115.4" cy="286.9" rx="1.5" ry="1.6"/><ellipse cx="60.7" cy="294.3" rx="1.5" ry="1.6"/><ellipse cx="64.0" cy="293.5" rx="1.5" ry="1.6"/><ellipse cx="67.2" cy="294.3" rx="1.5" ry="1.6"/><ellipse cx="70.5" cy="295.2" rx="1.5" ry="1.6"/><ellipse cx="74.7" cy="294.3" rx="1.5" ry="1.6"/><ellipse cx="77.9" cy="294.3" rx="1.5" ry="1.6"/><ellipse cx="81.2" cy="294.3" rx="1.5" ry="1.6"/><ellipse cx="85.3" cy="295.2" rx="1.5" ry="1.6"/><ellipse cx="88.6" cy="296.0" rx="1.5" ry="1.6"/><ellipse cx="94.4" cy="294.3" rx="1.5" ry="1.6"/><ellipse cx="101.8" cy="291.9" rx="1.5" ry="1.6"/><ellipse cx="99.3" cy="298.5" rx="1.5" ry="1.6"/><ellipse cx="104.8" cy="299.3" rx="1.5" ry="1.6"/><ellipse cx="128.1" cy="296.8" rx="1.5" ry="1.6"/><ellipse cx="54.9" cy="299.3" rx="1.5" ry="1.6"/><ellipse cx="61.5" cy="299.3" rx="1.5" ry="1.6"/><ellipse cx="64.8" cy="298.5" rx="1.5" ry="1.6"/><ellipse cx="69.7" cy="298.5" rx="1.5" ry="1.6"/><ellipse cx="73.0" cy="298.5" rx="1.5" ry="1.6"/><ellipse cx="77.1" cy="297.6" rx="1.5" ry="1.6"/><ellipse cx="81.2" cy="299.3" rx="1.5" ry="1.6"/><ellipse cx="85.3" cy="300.1" rx="1.5" ry="1.6"/><ellipse cx="89.5" cy="300.9" rx="1.5" ry="1.6"/><ellipse cx="52.4" cy="304.2" rx="1.5" ry="1.6"/><ellipse cx="59.0" cy="301.7" rx="1.5" ry="1.6"/><ellipse cx="63.1" cy="302.6" rx="1.5" ry="1.6"/><ellipse cx="67.2" cy="303.4" rx="1.5" ry="1.6"/><ellipse cx="71.4" cy="302.6" rx="1.5" ry="1.6"/><ellipse cx="74.7" cy="301.7" rx="1.5" ry="1.6"/><ellipse cx="77.9" cy="304.2" rx="1.5" ry="1.6"/><ellipse cx="82.1" cy="301.7" rx="1.5" ry="1.6"/><ellipse cx="90.3" cy="305.0" rx="1.5" ry="1.6"/><ellipse cx="96.9" cy="305.9" rx="1.5" ry="1.6"/><ellipse cx="128.9" cy="305.4" rx="1.5" ry="1.6"/><ellipse cx="60.7" cy="308.3" rx="1.5" ry="1.6"/><ellipse cx="66.4" cy="307.5" rx="1.5" ry="1.6"/><ellipse cx="70.5" cy="308.3" rx="1.5" ry="1.6"/><ellipse cx="73.8" cy="308.0" rx="1.5" ry="1.6"/><ellipse cx="77.9" cy="308.3" rx="1.5" ry="1.6"/><ellipse cx="59.0" cy="311.9" rx="1.5" ry="1.6"/><ellipse cx="61.5" cy="313.2" rx="1.5" ry="1.6"/><ellipse cx="65.6" cy="311.6" rx="1.5" ry="1.6"/><ellipse cx="70.5" cy="311.6" rx="1.5" ry="1.6"/><ellipse cx="74.7" cy="311.2" rx="1.5" ry="1.6"/><ellipse cx="60.3" cy="316.2" rx="1.5" ry="1.6"/><ellipse cx="63.1" cy="317.3" rx="1.5" ry="1.6"/><ellipse cx="66.4" cy="316.5" rx="1.5" ry="1.6"/><ellipse cx="67.2" cy="319.8" rx="1.5" ry="1.6"/><ellipse cx="70.5" cy="315.7" rx="1.5" ry="1.6"/><ellipse cx="61.5" cy="318.5" rx="1.5" ry="1.6"/><ellipse cx="55.7" cy="321.4" rx="1.5" ry="1.6"/><ellipse cx="57.1" cy="322.3" rx="1.5" ry="1.6"/><ellipse cx="60.3" cy="325.6" rx="1.5" ry="1.6"/><ellipse cx="64.8" cy="327.2" rx="1.5" ry="1.6"/><ellipse cx="63.1" cy="328.4" rx="1.5" ry="1.6"/><ellipse cx="61.0" cy="331.0" rx="1.5" ry="1.6"/><ellipse cx="73.0" cy="323.1" rx="1.5" ry="1.6"/><ellipse cx="76.3" cy="322.8" rx="1.5" ry="1.6"/><ellipse cx="75.5" cy="326.7" rx="1.5" ry="1.6"/><ellipse cx="80.7" cy="325.2" rx="1.5" ry="1.6"/><ellipse cx="77.9" cy="333.0" rx="1.5" ry="1.6"/><ellipse cx="66.1" cy="336.6" rx="1.5" ry="1.6"/><ellipse cx="59.8" cy="338.7" rx="1.5" ry="1.6"/><ellipse cx="59.8" cy="339.9" rx="1.5" ry="1.6"/><ellipse cx="68.1" cy="349.7" rx="1.5" ry="1.6"/><ellipse cx="60.3" cy="358.1" rx="1.5" ry="1.6"/><ellipse cx="86.5" cy="313.6" rx="1.5" ry="1.6"/><ellipse cx="96.5" cy="319.0" rx="1.5" ry="1.6"/><ellipse cx="199.9" cy="250.4" rx="1.5" ry="1.6"/><ellipse cx="207.3" cy="255.9" rx="1.5" ry="1.6"/><ellipse cx="201.2" cy="261.1" rx="1.5" ry="1.6"/><ellipse cx="215.6" cy="261.1" rx="1.5" ry="1.6"/><ellipse cx="236.2" cy="264.8" rx="1.5" ry="1.6"/><ellipse cx="210.0" cy="271.0" rx="1.5" ry="1.6"/><ellipse cx="208.2" cy="274.7" rx="1.5" ry="1.6"/><ellipse cx="207.0" cy="277.9" rx="1.5" ry="1.6"/><ellipse cx="212.8" cy="278.3" rx="1.5" ry="1.6"/><ellipse cx="219.4" cy="275.5" rx="1.5" ry="1.6"/><ellipse cx="221.0" cy="276.3" rx="1.5" ry="1.6"/><ellipse cx="217.7" cy="277.9" rx="1.5" ry="1.6"/><ellipse cx="221.8" cy="279.6" rx="1.5" ry="1.6"/><ellipse cx="229.3" cy="278.3" rx="1.5" ry="1.6"/><ellipse cx="183.5" cy="284.5" rx="1.5" ry="1.6"/><ellipse cx="185.6" cy="285.4" rx="1.5" ry="1.6"/><ellipse cx="188.1" cy="282.1" rx="1.5" ry="1.6"/><ellipse cx="197.1" cy="282.1" rx="1.5" ry="1.6"/><ellipse cx="243.3" cy="282.9" rx="1.5" ry="1.6"/><ellipse cx="244.9" cy="287.0" rx="1.5" ry="1.6"/><ellipse cx="237.5" cy="287.0" rx="1.5" ry="1.6"/><ellipse cx="234.2" cy="287.0" rx="1.5" ry="1.6"/><ellipse cx="234.2" cy="289.8" rx="1.5" ry="1.6"/><ellipse cx="236.7" cy="290.8" rx="1.5" ry="1.6"/><ellipse cx="197.1" cy="290.8" rx="1.5" ry="1.6"/><ellipse cx="187.2" cy="293.1" rx="1.5" ry="1.6"/><ellipse cx="188.9" cy="296.9" rx="1.5" ry="1.6"/><ellipse cx="174.9" cy="296.9" rx="1.5" ry="1.6"/><ellipse cx="234.2" cy="299.7" rx="1.5" ry="1.6"/><ellipse cx="250.7" cy="301.0" rx="1.5" ry="1.6"/><ellipse cx="256.1" cy="303.8" rx="1.5" ry="1.6"/><ellipse cx="199.6" cy="301.8" rx="1.5" ry="1.6"/><ellipse cx="181.0" cy="307.6" rx="1.5" ry="1.6"/><ellipse cx="191.9" cy="308.1" rx="1.5" ry="1.6"/><ellipse cx="203.7" cy="306.0" rx="1.5" ry="1.6"/><ellipse cx="207.0" cy="306.8" rx="1.5" ry="1.6"/><ellipse cx="211.1" cy="306.0" rx="1.5" ry="1.6"/><ellipse cx="214.4" cy="304.3" rx="1.5" ry="1.6"/><ellipse cx="228.4" cy="306.0" rx="1.5" ry="1.6"/><ellipse cx="211.1" cy="308.4" rx="1.5" ry="1.6"/><ellipse cx="228.4" cy="308.1" rx="1.5" ry="1.6"/><ellipse cx="234.2" cy="309.3" rx="1.5" ry="1.6"/><ellipse cx="175.7" cy="313.6" rx="1.5" ry="1.6"/><ellipse cx="178.2" cy="311.9" rx="1.5" ry="1.6"/><ellipse cx="187.7" cy="311.6" rx="1.5" ry="1.6"/><ellipse cx="207.0" cy="313.6" rx="1.5" ry="1.6"/><ellipse cx="208.7" cy="317.9" rx="1.5" ry="1.6"/><ellipse cx="210.8" cy="316.5" rx="1.5" ry="1.6"/><ellipse cx="211.5" cy="320.2" rx="1.5" ry="1.6"/><ellipse cx="215.2" cy="316.5" rx="1.5" ry="1.6"/><ellipse cx="216.9" cy="318.5" rx="1.5" ry="1.6"/><ellipse cx="220.2" cy="311.9" rx="1.5" ry="1.6"/><ellipse cx="225.6" cy="311.6" rx="1.5" ry="1.6"/><ellipse cx="223.5" cy="319.0" rx="1.5" ry="1.6"/><ellipse cx="221.8" cy="322.8" rx="1.5" ry="1.6"/><ellipse cx="216.4" cy="322.3" rx="1.5" ry="1.6"/><ellipse cx="228.1" cy="321.5" rx="1.5" ry="1.6"/><ellipse cx="227.6" cy="326.7" rx="1.5" ry="1.6"/><ellipse cx="230.1" cy="326.4" rx="1.5" ry="1.6"/><ellipse cx="202.6" cy="321.5" rx="1.5" ry="1.6"/><ellipse cx="185.6" cy="322.8" rx="1.5" ry="1.6"/><ellipse cx="191.9" cy="328.9" rx="1.5" ry="1.6"/><ellipse cx="210.8" cy="325.6" rx="1.5" ry="1.6"/><ellipse cx="224.6" cy="331.7" rx="1.5" ry="1.6"/><ellipse cx="214.8" cy="333.0" rx="1.5" ry="1.6"/><ellipse cx="213.6" cy="336.8" rx="1.5" ry="1.6"/><ellipse cx="222.2" cy="339.9" rx="1.5" ry="1.6"/><ellipse cx="238.6" cy="338.8" rx="1.5" ry="1.6"/><ellipse cx="206.7" cy="350.0" rx="1.5" ry="1.6"/><ellipse cx="205.4" cy="358.5" rx="1.5" ry="1.6"/><ellipse cx="208.9" cy="281.3" rx="1.5" ry="1.6"/><ellipse cx="219.0" cy="281.9" rx="1.5" ry="1.6"/><ellipse cx="225.9" cy="283.8" rx="1.5" ry="1.6"/><ellipse cx="230.4" cy="283.2" rx="1.5" ry="1.6"/><ellipse cx="206.3" cy="285.4" rx="1.5" ry="1.6"/><ellipse cx="210.1" cy="284.4" rx="1.5" ry="1.6"/><ellipse cx="211.4" cy="287.0" rx="1.5" ry="1.6"/><ellipse cx="219.0" cy="286.3" rx="1.5" ry="1.6"/><ellipse cx="220.9" cy="287.9" rx="1.5" ry="1.6"/><ellipse cx="202.5" cy="289.5" rx="1.5" ry="1.6"/><ellipse cx="204.7" cy="290.8" rx="1.5" ry="1.6"/><ellipse cx="208.9" cy="292.0" rx="1.5" ry="1.6"/><ellipse cx="212.7" cy="290.1" rx="1.5" ry="1.6"/><ellipse cx="215.2" cy="289.5" rx="1.5" ry="1.6"/><ellipse cx="217.1" cy="290.8" rx="1.5" ry="1.6"/><ellipse cx="219.0" cy="292.7" rx="1.5" ry="1.6"/><ellipse cx="222.2" cy="291.4" rx="1.5" ry="1.6"/><ellipse cx="224.1" cy="293.3" rx="1.5" ry="1.6"/><ellipse cx="215.2" cy="294.6" rx="1.5" ry="1.6"/><ellipse cx="218.4" cy="295.8" rx="1.5" ry="1.6"/><ellipse cx="221.5" cy="295.2" rx="1.5" ry="1.6"/><ellipse cx="226.6" cy="295.2" rx="1.5" ry="1.6"/><ellipse cx="229.1" cy="293.9" rx="1.5" ry="1.6"/><ellipse cx="229.7" cy="296.5" rx="1.5" ry="1.6"/><ellipse cx="205.7" cy="300.3" rx="1.5" ry="1.6"/><ellipse cx="206.3" cy="302.2" rx="1.5" ry="1.6"/><ellipse cx="217.1" cy="301.5" rx="1.5" ry="1.6"/><ellipse cx="222.2" cy="300.3" rx="1.5" ry="1.6"/><ellipse cx="228.5" cy="300.9" rx="1.5" ry="1.6"/><ellipse cx="368.8" cy="251.3" rx="1.5" ry="1.6"/><ellipse cx="379.1" cy="256.9" rx="1.5" ry="1.6"/><ellipse cx="347.8" cy="262.0" rx="1.5" ry="1.6"/><ellipse cx="366.0" cy="262.0" rx="1.5" ry="1.6"/><ellipse cx="381.1" cy="265.1" rx="1.5" ry="1.6"/><ellipse cx="343.2" cy="276.8" rx="1.5" ry="1.6"/><ellipse cx="345.0" cy="280.9" rx="1.5" ry="1.6"/><ellipse cx="348.7" cy="282.1" rx="1.5" ry="1.6"/><ellipse cx="319.5" cy="284.0" rx="1.5" ry="1.6"/><ellipse cx="328.1" cy="285.9" rx="1.5" ry="1.6"/><ellipse cx="335.5" cy="283.7" rx="1.5" ry="1.6"/><ellipse cx="338.8" cy="285.9" rx="1.5" ry="1.6"/><ellipse cx="341.2" cy="287.0" rx="1.5" ry="1.6"/><ellipse cx="307.0" cy="291.5" rx="1.5" ry="1.6"/><ellipse cx="316.9" cy="291.5" rx="1.5" ry="1.6"/><ellipse cx="322.8" cy="291.5" rx="1.5" ry="1.6"/><ellipse cx="329.4" cy="293.6" rx="1.5" ry="1.6"/><ellipse cx="314.1" cy="295.2" rx="1.5" ry="1.6"/><ellipse cx="337.1" cy="295.2" rx="1.5" ry="1.6"/><ellipse cx="339.6" cy="289.8" rx="1.5" ry="1.6"/><ellipse cx="345.4" cy="289.5" rx="1.5" ry="1.6"/><ellipse cx="347.0" cy="292.8" rx="1.5" ry="1.6"/><ellipse cx="350.3" cy="293.6" rx="1.5" ry="1.6"/><ellipse cx="353.6" cy="294.4" rx="1.5" ry="1.6"/><ellipse cx="403.8" cy="289.2" rx="1.5" ry="1.6"/><ellipse cx="319.8" cy="299.7" rx="1.5" ry="1.6"/><ellipse cx="325.1" cy="299.7" rx="1.5" ry="1.6"/><ellipse cx="345.4" cy="296.9" rx="1.5" ry="1.6"/><ellipse cx="348.7" cy="297.7" rx="1.5" ry="1.6"/><ellipse cx="352.8" cy="297.7" rx="1.5" ry="1.6"/><ellipse cx="357.7" cy="297.7" rx="1.5" ry="1.6"/><ellipse cx="361.8" cy="296.9" rx="1.5" ry="1.6"/><ellipse cx="330.0" cy="304.3" rx="1.5" ry="1.6"/><ellipse cx="334.7" cy="306.3" rx="1.5" ry="1.6"/><ellipse cx="339.9" cy="302.7" rx="1.5" ry="1.6"/><ellipse cx="343.7" cy="301.8" rx="1.5" ry="1.6"/><ellipse cx="351.1" cy="301.8" rx="1.5" ry="1.6"/><ellipse cx="357.7" cy="301.8" rx="1.5" ry="1.6"/><ellipse cx="359.4" cy="304.0" rx="1.5" ry="1.6"/><ellipse cx="317.9" cy="308.9" rx="1.5" ry="1.6"/><ellipse cx="335.5" cy="308.4" rx="1.5" ry="1.6"/><ellipse cx="347.0" cy="308.9" rx="1.5" ry="1.6"/><ellipse cx="352.8" cy="307.3" rx="1.5" ry="1.6"/><ellipse cx="354.4" cy="309.3" rx="1.5" ry="1.6"/><ellipse cx="361.8" cy="309.3" rx="1.5" ry="1.6"/><ellipse cx="357.7" cy="311.9" rx="1.5" ry="1.6"/><ellipse cx="361.8" cy="314.6" rx="1.5" ry="1.6"/><ellipse cx="366.8" cy="312.9" rx="1.5" ry="1.6"/><ellipse cx="368.4" cy="316.5" rx="1.5" ry="1.6"/><ellipse cx="372.2" cy="316.9" rx="1.5" ry="1.6"/><ellipse cx="363.0" cy="319.3" rx="1.5" ry="1.6"/><ellipse cx="353.3" cy="319.0" rx="1.5" ry="1.6"/><ellipse cx="354.9" cy="322.0" rx="1.5" ry="1.6"/><ellipse cx="345.9" cy="318.2" rx="1.5" ry="1.6"/><ellipse cx="331.4" cy="320.7" rx="1.5" ry="1.6"/><ellipse cx="333.8" cy="322.8" rx="1.5" ry="1.6"/><ellipse cx="341.6" cy="321.8" rx="1.5" ry="1.6"/><ellipse cx="343.7" cy="323.9" rx="1.5" ry="1.6"/><ellipse cx="348.2" cy="324.8" rx="1.5" ry="1.6"/><ellipse cx="337.9" cy="326.1" rx="1.5" ry="1.6"/><ellipse cx="323.9" cy="328.1" rx="1.5" ry="1.6"/><ellipse cx="309.9" cy="332.2" rx="1.5" ry="1.6"/><ellipse cx="357.7" cy="326.7" rx="1.5" ry="1.6"/><ellipse cx="381.1" cy="327.7" rx="1.5" ry="1.6"/><ellipse cx="366.8" cy="333.8" rx="1.5" ry="1.6"/><ellipse cx="369.6" cy="337.9" rx="1.5" ry="1.6"/><ellipse cx="370.1" cy="339.3" rx="1.5" ry="1.6"/><ellipse cx="338.8" cy="340.7" rx="1.5" ry="1.6"/><ellipse cx="375.0" cy="350.8" rx="1.5" ry="1.6"/><ellipse cx="372.2" cy="359.0" rx="1.5" ry="1.6"/><ellipse cx="386.2" cy="312.1" rx="1.5" ry="1.6"/><ellipse cx="389.8" cy="320.2" rx="1.5" ry="1.6"/><ellipse cx="370.9" cy="271.9" rx="1.5" ry="1.6"/><ellipse cx="369.0" cy="274.7" rx="1.5" ry="1.6"/><ellipse cx="365.8" cy="278.9" rx="1.5" ry="1.6"/><ellipse cx="370.3" cy="279.8" rx="1.5" ry="1.6"/><ellipse cx="368.4" cy="278.2" rx="1.5" ry="1.6"/><ellipse cx="357.6" cy="277.6" rx="1.5" ry="1.6"/><ellipse cx="357.0" cy="279.8" rx="1.5" ry="1.6"/><ellipse cx="360.8" cy="283.3" rx="1.5" ry="1.6"/><ellipse cx="363.3" cy="283.0" rx="1.5" ry="1.6"/><ellipse cx="366.1" cy="284.6" rx="1.5" ry="1.6"/><ellipse cx="369.6" cy="285.2" rx="1.5" ry="1.6"/><ellipse cx="355.1" cy="285.8" rx="1.5" ry="1.6"/><ellipse cx="352.5" cy="288.4" rx="1.5" ry="1.6"/><ellipse cx="358.9" cy="288.4" rx="1.5" ry="1.6"/><ellipse cx="357.6" cy="290.9" rx="1.5" ry="1.6"/><ellipse cx="360.8" cy="291.5" rx="1.5" ry="1.6"/><ellipse cx="362.0" cy="289.6" rx="1.5" ry="1.6"/><ellipse cx="381.0" cy="283.6" rx="1.5" ry="1.6"/><ellipse cx="351.9" cy="293.4" rx="1.5" ry="1.6"/><ellipse cx="364.6" cy="293.4" rx="1.5" ry="1.6"/><ellipse cx="368.8" cy="287.5" rx="1.5" ry="1.6"/><ellipse cx="367.5" cy="290.1" rx="1.5" ry="1.6"/><ellipse cx="371.3" cy="288.8" rx="1.5" ry="1.6"/><ellipse cx="375.1" cy="288.2" rx="1.5" ry="1.6"/><ellipse cx="373.9" cy="291.3" rx="1.5" ry="1.6"/><ellipse cx="377.0" cy="291.3" rx="1.5" ry="1.6"/><ellipse cx="370.1" cy="293.2" rx="1.5" ry="1.6"/><ellipse cx="373.2" cy="293.2" rx="1.5" ry="1.6"/><ellipse cx="366.9" cy="296.4" rx="1.5" ry="1.6"/><ellipse cx="370.7" cy="296.1" rx="1.5" ry="1.6"/><ellipse cx="374.5" cy="295.8" rx="1.5" ry="1.6"/><ellipse cx="377.7" cy="295.8" rx="1.5" ry="1.6"/><ellipse cx="380.8" cy="294.8" rx="1.5" ry="1.6"/><ellipse cx="380.2" cy="297.7" rx="1.5" ry="1.6"/><ellipse cx="384.6" cy="298.3" rx="1.5" ry="1.6"/><ellipse cx="368.8" cy="301.5" rx="1.5" ry="1.6"/><ellipse cx="372.0" cy="299.2" rx="1.5" ry="1.6"/><ellipse cx="375.8" cy="301.5" rx="1.5" ry="1.6"/><ellipse cx="377.0" cy="300.2" rx="1.5" ry="1.6"/><ellipse cx="374.5" cy="304.6" rx="1.5" ry="1.6"/><ellipse cx="368.8" cy="306.5" rx="1.5" ry="1.6"/><ellipse cx="370.7" cy="307.2" rx="1.5" ry="1.6"/><ellipse cx="380.8" cy="287.5" rx="1.5" ry="1.6"/><ellipse cx="498.7" cy="251.3" rx="1.5" ry="1.6"/><ellipse cx="466.2" cy="262.0" rx="1.5" ry="1.6"/><ellipse cx="491.8" cy="262.0" rx="1.5" ry="1.6"/><ellipse cx="452.2" cy="276.6" rx="1.5" ry="1.6"/><ellipse cx="455.9" cy="279.3" rx="1.5" ry="1.6"/><ellipse cx="458.5" cy="275.5" rx="1.5" ry="1.6"/><ellipse cx="461.3" cy="277.1" rx="1.5" ry="1.6"/><ellipse cx="462.1" cy="278.8" rx="1.5" ry="1.6"/><ellipse cx="459.7" cy="280.4" rx="1.5" ry="1.6"/><ellipse cx="473.7" cy="279.6" rx="1.5" ry="1.6"/><ellipse cx="472.8" cy="281.6" rx="1.5" ry="1.6"/><ellipse cx="491.8" cy="283.7" rx="1.5" ry="1.6"/><ellipse cx="495.9" cy="279.9" rx="1.5" ry="1.6"/><ellipse cx="498.0" cy="282.9" rx="1.5" ry="1.6"/><ellipse cx="504.1" cy="282.9" rx="1.5" ry="1.6"/><ellipse cx="506.3" cy="284.0" rx="1.5" ry="1.6"/><ellipse cx="505.8" cy="289.8" rx="1.5" ry="1.6"/><ellipse cx="500.8" cy="291.1" rx="1.5" ry="1.6"/><ellipse cx="500.0" cy="294.4" rx="1.5" ry="1.6"/><ellipse cx="493.4" cy="288.7" rx="1.5" ry="1.6"/><ellipse cx="490.1" cy="286.2" rx="1.5" ry="1.6"/><ellipse cx="454.7" cy="299.0" rx="1.5" ry="1.6"/><ellipse cx="493.4" cy="292.0" rx="1.5" ry="1.6"/><ellipse cx="496.7" cy="292.4" rx="1.5" ry="1.6"/><ellipse cx="512.4" cy="295.2" rx="1.5" ry="1.6"/><ellipse cx="509.1" cy="304.3" rx="1.5" ry="1.6"/><ellipse cx="467.1" cy="306.8" rx="1.5" ry="1.6"/><ellipse cx="478.6" cy="306.3" rx="1.5" ry="1.6"/><ellipse cx="482.7" cy="306.8" rx="1.5" ry="1.6"/><ellipse cx="451.4" cy="308.9" rx="1.5" ry="1.6"/><ellipse cx="475.3" cy="308.9" rx="1.5" ry="1.6"/><ellipse cx="489.3" cy="308.4" rx="1.5" ry="1.6"/><ellipse cx="492.6" cy="308.4" rx="1.5" ry="1.6"/><ellipse cx="495.9" cy="308.4" rx="1.5" ry="1.6"/><ellipse cx="501.7" cy="308.9" rx="1.5" ry="1.6"/><ellipse cx="471.2" cy="312.4" rx="1.5" ry="1.6"/><ellipse cx="493.4" cy="312.4" rx="1.5" ry="1.6"/><ellipse cx="491.0" cy="314.9" rx="1.5" ry="1.6"/><ellipse cx="484.0" cy="316.9" rx="1.5" ry="1.6"/><ellipse cx="479.4" cy="319.0" rx="1.5" ry="1.6"/><ellipse cx="476.9" cy="320.2" rx="1.5" ry="1.6"/><ellipse cx="478.6" cy="323.5" rx="1.5" ry="1.6"/><ellipse cx="478.6" cy="327.7" rx="1.5" ry="1.6"/><ellipse cx="462.9" cy="318.5" rx="1.5" ry="1.6"/><ellipse cx="469.5" cy="322.3" rx="1.5" ry="1.6"/><ellipse cx="470.4" cy="326.1" rx="1.5" ry="1.6"/><ellipse cx="465.4" cy="328.9" rx="1.5" ry="1.6"/><ellipse cx="462.5" cy="332.2" rx="1.5" ry="1.6"/><ellipse cx="472.0" cy="333.8" rx="1.5" ry="1.6"/><ellipse cx="467.9" cy="337.6" rx="1.5" ry="1.6"/><ellipse cx="470.0" cy="340.9" rx="1.5" ry="1.6"/><ellipse cx="475.0" cy="339.1" rx="1.5" ry="1.6"/><ellipse cx="489.3" cy="322.3" rx="1.5" ry="1.6"/><ellipse cx="491.8" cy="324.8" rx="1.5" ry="1.6"/><ellipse cx="491.8" cy="327.2" rx="1.5" ry="1.6"/><ellipse cx="496.4" cy="323.9" rx="1.5" ry="1.6"/><ellipse cx="499.5" cy="321.0" rx="1.5" ry="1.6"/><ellipse cx="510.7" cy="316.9" rx="1.5" ry="1.6"/><ellipse cx="476.9" cy="350.8" rx="1.5" ry="1.6"/><ellipse cx="474.0" cy="359.4" rx="1.5" ry="1.6"/><ellipse cx="553.1" cy="314.9" rx="1.5" ry="1.6"/><ellipse cx="458.8" cy="283.3" rx="1.5" ry="1.6"/><ellipse cx="466.7" cy="283.9" rx="1.5" ry="1.6"/><ellipse cx="470.8" cy="285.8" rx="1.5" ry="1.6"/><ellipse cx="475.9" cy="287.1" rx="1.5" ry="1.6"/><ellipse cx="480.0" cy="285.8" rx="1.5" ry="1.6"/><ellipse cx="482.8" cy="284.5" rx="1.5" ry="1.6"/><ellipse cx="487.9" cy="287.7" rx="1.5" ry="1.6"/><ellipse cx="458.2" cy="290.2" rx="1.5" ry="1.6"/><ellipse cx="463.2" cy="292.1" rx="1.5" ry="1.6"/><ellipse cx="466.7" cy="291.5" rx="1.5" ry="1.6"/><ellipse cx="469.6" cy="289.6" rx="1.5" ry="1.6"/><ellipse cx="473.0" cy="290.9" rx="1.5" ry="1.6"/><ellipse cx="476.8" cy="291.8" rx="1.5" ry="1.6"/><ellipse cx="480.9" cy="290.2" rx="1.5" ry="1.6"/><ellipse cx="484.7" cy="292.4" rx="1.5" ry="1.6"/><ellipse cx="487.3" cy="293.7" rx="1.5" ry="1.6"/><ellipse cx="458.8" cy="294.7" rx="1.5" ry="1.6"/><ellipse cx="456.3" cy="297.8" rx="1.5" ry="1.6"/><ellipse cx="466.1" cy="294.7" rx="1.5" ry="1.6"/><ellipse cx="470.2" cy="294.0" rx="1.5" ry="1.6"/><ellipse cx="474.0" cy="293.4" rx="1.5" ry="1.6"/><ellipse cx="475.3" cy="296.9" rx="1.5" ry="1.6"/><ellipse cx="478.4" cy="295.3" rx="1.5" ry="1.6"/><ellipse cx="480.3" cy="297.8" rx="1.5" ry="1.6"/><ellipse cx="482.8" cy="297.5" rx="1.5" ry="1.6"/><ellipse cx="486.6" cy="295.9" rx="1.5" ry="1.6"/><ellipse cx="461.0" cy="300.0" rx="1.5" ry="1.6"/><ellipse cx="464.5" cy="300.4" rx="1.5" ry="1.6"/><ellipse cx="470.8" cy="299.1" rx="1.5" ry="1.6"/><ellipse cx="474.0" cy="301.0" rx="1.5" ry="1.6"/><ellipse cx="476.8" cy="299.7" rx="1.5" ry="1.6"/><ellipse cx="487.3" cy="302.3" rx="1.5" ry="1.6"/><ellipse cx="463.9" cy="304.8" rx="1.5" ry="1.6"/><ellipse cx="467.7" cy="303.5" rx="1.5" ry="1.6"/><ellipse cx="472.7" cy="304.2" rx="1.5" ry="1.6"/><ellipse cx="475.9" cy="302.9" rx="1.5" ry="1.6"/></g>
<g stroke="#555" stroke-width="0.6"><line x1="41.8" y1="76.0" x2="123.2" y2="127.3"/><line x1="171.0" y1="88.0" x2="264.0" y2="121.0"/><line x1="311.8" y1="93.3" x2="399.8" y2="107.6"/><line x1="452.0" y1="83.2" x2="541.8" y2="124.4"/><line x1="596.3" y1="93.2" x2="684.3" y2="100.5"/><line x1="40.9" y1="311.9" x2="124.8" y2="279.5"/><line x1="170.8" y1="299.4" x2="267.1" y2="299.4"/><line x1="309.1" y1="304.0" x2="404.7" y2="293.9"/><line x1="450.6" y1="297.4" x2="547.8" y2="304.0"/></g>
<g fill="none" stroke="#444" stroke-width="1.05"><path d="M36.50 52.40V175.50H130.30"/><path d="M165.50 51.30V174.55H270.00"/><path d="M306.55 51.60V174.90H410.50"/><path d="M443.45 51.60V174.50H547.00"/><path d="M579.50 51.10V174.40H686.00"/><path d="M35.50 250.20V372.50H131.40"/><path d="M164.50 249.50V373.30H270.00"/><path d="M304.90 250.40V373.80H413.00"/><path d="M443.60 250.40V373.80H554.30"/></g>
<text x="36.50" y="184.00" font-size="5.8" font-weight="bold" text-anchor="middle"  stroke="#111" stroke-width="0.2">80</text><text x="63.30" y="184.00" font-size="5.8" font-weight="bold" text-anchor="middle"  stroke="#111" stroke-width="0.2">120</text><text x="90.10" y="184.00" font-size="5.8" font-weight="bold" text-anchor="middle"  stroke="#111" stroke-width="0.2">160</text><text x="116.90" y="184.00" font-size="5.8" font-weight="bold" text-anchor="middle"  stroke="#111" stroke-width="0.2">200</text><text x="83.85" y="194.30" font-size="5.5" font-weight="bold" text-anchor="middle" textLength="79.7" lengthAdjust="spacingAndGlyphs" stroke="#111" stroke-width="0.2">Baseline&#160;&#160;SBP-2nd session, mmHg</text><text x="28.30" y="46.60" font-size="5.1" font-weight="bold" text-anchor="middle"  stroke="#111" stroke-width="0.2">A</text><text x="107.70" y="48.90" font-size="7.0" font-weight="normal" text-anchor="start"  stroke="#111" stroke-width="0.12">r=-0.63</text><text x="107.70" y="57.40" font-size="7.0" font-weight="normal" text-anchor="start"  stroke="#111" stroke-width="0.12">p &lt;0.001</text><text x="165.50" y="184.00" font-size="5.8" font-weight="bold" text-anchor="middle"  stroke="#111" stroke-width="0.2">40</text><text x="186.40" y="184.00" font-size="5.8" font-weight="bold" text-anchor="middle"  stroke="#111" stroke-width="0.2">60</text><text x="207.30" y="184.00" font-size="5.8" font-weight="bold" text-anchor="middle"  stroke="#111" stroke-width="0.2">80</text><text x="228.20" y="184.00" font-size="5.8" font-weight="bold" text-anchor="middle"  stroke="#111" stroke-width="0.2">100</text><text x="249.10" y="184.00" font-size="5.8" font-weight="bold" text-anchor="middle"  stroke="#111" stroke-width="0.2">120</text><text x="270.00" y="184.00" font-size="5.8" font-weight="bold" text-anchor="middle"  stroke="#111" stroke-width="0.2">140</text><text x="218.80" y="194.30" font-size="5.5" font-weight="bold" text-anchor="middle" textLength="79.4" lengthAdjust="spacingAndGlyphs" stroke="#111" stroke-width="0.2">Baseline DBP-2nd session, mmHg</text><text x="163.00" y="46.50" font-size="5.1" font-weight="bold" text-anchor="middle"  stroke="#111" stroke-width="0.2">B</text><text x="243.10" y="48.60" font-size="7.0" font-weight="normal" text-anchor="start"  stroke="#111" stroke-width="0.12">r=-0.34</text><text x="243.10" y="57.40" font-size="7.0" font-weight="normal" text-anchor="start"  stroke="#111" stroke-width="0.12">p &lt;0.001</text><text x="306.55" y="184.00" font-size="5.8" font-weight="bold" text-anchor="middle"  stroke="#111" stroke-width="0.2">30</text><text x="341.20" y="184.00" font-size="5.8" font-weight="bold" text-anchor="middle"  stroke="#111" stroke-width="0.2">60</text><text x="375.85" y="184.00" font-size="5.8" font-weight="bold" text-anchor="middle"  stroke="#111" stroke-width="0.2">90</text><text x="410.50" y="184.00" font-size="5.8" font-weight="bold" text-anchor="middle"  stroke="#111" stroke-width="0.2">120</text><text x="357.20" y="194.30" font-size="5.5" font-weight="bold" text-anchor="middle" textLength="85.6" lengthAdjust="spacingAndGlyphs" stroke="#111" stroke-width="0.2">Baseline heart rate-2nd session, bpm</text><text x="308.70" y="46.90" font-size="5.1" font-weight="bold" text-anchor="middle"  stroke="#111" stroke-width="0.2">C</text><text x="384.00" y="48.80" font-size="7.0" font-weight="normal" text-anchor="start"  stroke="#111" stroke-width="0.12">r=-0.14</text><text x="384.00" y="57.00" font-size="7.0" font-weight="normal" text-anchor="start"  stroke="#111" stroke-width="0.12">p=0.10</text><text x="443.45" y="184.00" font-size="5.8" font-weight="bold" text-anchor="middle"  stroke="#111" stroke-width="0.2">20</text><text x="469.34" y="184.00" font-size="5.8" font-weight="bold" text-anchor="middle"  stroke="#111" stroke-width="0.2">40</text><text x="495.23" y="184.00" font-size="5.8" font-weight="bold" text-anchor="middle"  stroke="#111" stroke-width="0.2">60</text><text x="521.11" y="184.00" font-size="5.8" font-weight="bold" text-anchor="middle"  stroke="#111" stroke-width="0.2">80</text><text x="547.00" y="184.00" font-size="5.8" font-weight="bold" text-anchor="middle"  stroke="#111" stroke-width="0.2">100</text><text x="493.30" y="194.30" font-size="5.5" font-weight="bold" text-anchor="middle" textLength="116.4" lengthAdjust="spacingAndGlyphs" stroke="#111" stroke-width="0.2">Baseline central pulse pressure-2nd session, mmHg</text><text x="445.40" y="46.40" font-size="5.1" font-weight="bold" text-anchor="middle"  stroke="#111" stroke-width="0.2">D</text><text x="520.80" y="48.30" font-size="7.0" font-weight="normal" text-anchor="start"  stroke="#111" stroke-width="0.12">r=-0.53</text><text x="520.80" y="57.00" font-size="7.0" font-weight="normal" text-anchor="start"  stroke="#111" stroke-width="0.12">p &lt;0.001</text><text x="579.50" y="184.00" font-size="5.8" font-weight="bold" text-anchor="middle"  stroke="#111" stroke-width="0.2">-30</text><text x="598.58" y="184.00" font-size="5.8" font-weight="bold" text-anchor="middle"  stroke="#111" stroke-width="0.2">-10</text><text x="617.66" y="184.00" font-size="5.8" font-weight="bold" text-anchor="middle"  stroke="#111" stroke-width="0.2">10</text><text x="636.74" y="184.00" font-size="5.8" font-weight="bold" text-anchor="middle"  stroke="#111" stroke-width="0.2">30</text><text x="655.82" y="184.00" font-size="5.8" font-weight="bold" text-anchor="middle"  stroke="#111" stroke-width="0.2">50</text><text x="674.90" y="184.00" font-size="5.8" font-weight="bold" text-anchor="middle"  stroke="#111" stroke-width="0.2">70</text><text x="632.80" y="194.30" font-size="5.5" font-weight="bold" text-anchor="middle" textLength="74.6" lengthAdjust="spacingAndGlyphs" stroke="#111" stroke-width="0.2">Baseline AIx@75-2nd session, %</text><text x="580.40" y="46.10" font-size="5.1" font-weight="bold" text-anchor="middle"  stroke="#111" stroke-width="0.2">E</text><text x="660.70" y="48.30" font-size="7.0" font-weight="normal" text-anchor="start"  stroke="#111" stroke-width="0.12">r=-0.04</text><text x="660.70" y="56.30" font-size="7.0" font-weight="normal" text-anchor="start"  stroke="#111" stroke-width="0.12">p=0.63</text><text x="35.50" y="382.20" font-size="5.8" font-weight="bold" text-anchor="middle"  stroke="#111" stroke-width="0.2">40</text><text x="56.81" y="382.20" font-size="5.8" font-weight="bold" text-anchor="middle"  stroke="#111" stroke-width="0.2">80</text><text x="78.12" y="382.20" font-size="5.8" font-weight="bold" text-anchor="middle"  stroke="#111" stroke-width="0.2">120</text><text x="99.43" y="382.20" font-size="5.8" font-weight="bold" text-anchor="middle"  stroke="#111" stroke-width="0.2">160</text><text x="120.74" y="382.20" font-size="5.8" font-weight="bold" text-anchor="middle"  stroke="#111" stroke-width="0.2">200</text><text x="76.65" y="392.80" font-size="5.5" font-weight="bold" text-anchor="middle" textLength="72.9" lengthAdjust="spacingAndGlyphs" stroke="#111" stroke-width="0.2">Baseline SEVR-2nd session, %</text><text x="26.20" y="244.30" font-size="5.1" font-weight="bold" text-anchor="middle"  stroke="#111" stroke-width="0.2">F</text><text x="106.50" y="246.10" font-size="7.0" font-weight="normal" text-anchor="start"  stroke="#111" stroke-width="0.12">r=0.29</text><text x="106.50" y="254.90" font-size="7.0" font-weight="normal" text-anchor="start"  stroke="#111" stroke-width="0.12">p &lt;0.001</text><text x="164.50" y="382.20" font-size="5.8" font-weight="bold" text-anchor="middle"  stroke="#111" stroke-width="0.2">10</text><text x="185.60" y="382.20" font-size="5.8" font-weight="bold" text-anchor="middle"  stroke="#111" stroke-width="0.2">20</text><text x="206.70" y="382.20" font-size="5.8" font-weight="bold" text-anchor="middle"  stroke="#111" stroke-width="0.2">30</text><text x="227.80" y="382.20" font-size="5.8" font-weight="bold" text-anchor="middle"  stroke="#111" stroke-width="0.2">40</text><text x="248.90" y="382.20" font-size="5.8" font-weight="bold" text-anchor="middle"  stroke="#111" stroke-width="0.2">50</text><text x="270.00" y="382.20" font-size="5.8" font-weight="bold" text-anchor="middle"  stroke="#111" stroke-width="0.2">60</text><text x="216.85" y="392.80" font-size="5.5" font-weight="bold" text-anchor="middle" textLength="86.9" lengthAdjust="spacingAndGlyphs" stroke="#111" stroke-width="0.2">Fractional shortening-2nd session, %</text><text x="166.90" y="245.20" font-size="5.1" font-weight="bold" text-anchor="middle"  stroke="#111" stroke-width="0.2">G</text><text x="246.20" y="247.00" font-size="7.0" font-weight="normal" text-anchor="start"  stroke="#111" stroke-width="0.12">r=-0.02</text><text x="246.20" y="255.40" font-size="7.0" font-weight="normal" text-anchor="start"  stroke="#111" stroke-width="0.12">p=0.92</text><text x="304.90" y="382.20" font-size="5.8" font-weight="bold" text-anchor="middle"  stroke="#111" stroke-width="0.2">0.4</text><text x="340.93" y="382.20" font-size="5.8" font-weight="bold" text-anchor="middle"  stroke="#111" stroke-width="0.2">0.8</text><text x="376.97" y="382.20" font-size="5.8" font-weight="bold" text-anchor="middle"  stroke="#111" stroke-width="0.2">1.2</text><text x="413.00" y="382.20" font-size="5.8" font-weight="bold" text-anchor="middle"  stroke="#111" stroke-width="0.2">1.6</text><text x="359.75" y="392.80" font-size="5.5" font-weight="bold" text-anchor="middle" textLength="79.3" lengthAdjust="spacingAndGlyphs" stroke="#111" stroke-width="0.2">Ankle-brachial index-2nd session</text><text x="306.40" y="244.50" font-size="5.1" font-weight="bold" text-anchor="middle"  stroke="#111" stroke-width="0.2">H</text><text x="382.70" y="245.80" font-size="7.0" font-weight="normal" text-anchor="start"  stroke="#111" stroke-width="0.12">r=0.12</text><text x="382.70" y="254.00" font-size="7.0" font-weight="normal" text-anchor="start"  stroke="#111" stroke-width="0.12">p=0.17</text><text x="443.60" y="382.20" font-size="5.8" font-weight="bold" text-anchor="middle"  stroke="#111" stroke-width="0.2">4</text><text x="475.23" y="382.20" font-size="5.8" font-weight="bold" text-anchor="middle"  stroke="#111" stroke-width="0.2">8</text><text x="506.86" y="382.20" font-size="5.8" font-weight="bold" text-anchor="middle"  stroke="#111" stroke-width="0.2">12</text><text x="538.49" y="382.20" font-size="5.8" font-weight="bold" text-anchor="middle"  stroke="#111" stroke-width="0.2">16</text><text x="498.60" y="392.80" font-size="5.5" font-weight="bold" text-anchor="middle" textLength="79.0" lengthAdjust="spacingAndGlyphs" stroke="#111" stroke-width="0.2">Ankle-brachial index-2nd session</text><text x="445.90" y="245.70" font-size="5.1" font-weight="bold" text-anchor="middle"  stroke="#111" stroke-width="0.2">I</text><text x="519.70" y="245.30" font-size="7.0" font-weight="normal" text-anchor="start"  stroke="#111" stroke-width="0.12">r=-0.04</text><text x="519.70" y="253.30" font-size="7.0" font-weight="normal" text-anchor="start"  stroke="#111" stroke-width="0.12">p=0.61</text><text x="31.60" y="54.85" font-size="5.8" font-weight="bold" text-anchor="end"  stroke="#111" stroke-width="0.2">40</text><text x="31.60" y="70.20" font-size="5.8" font-weight="bold" text-anchor="end"  stroke="#111" stroke-width="0.2">20</text><text x="31.60" y="85.55" font-size="5.8" font-weight="bold" text-anchor="end"  stroke="#111" stroke-width="0.2">0</text><text x="31.60" y="100.90" font-size="5.8" font-weight="bold" text-anchor="end"  stroke="#111" stroke-width="0.2">-20</text><text x="31.60" y="116.25" font-size="5.8" font-weight="bold" text-anchor="end"  stroke="#111" stroke-width="0.2">-40</text><text x="31.60" y="131.60" font-size="5.8" font-weight="bold" text-anchor="end"  stroke="#111" stroke-width="0.2">-60</text><text x="31.60" y="146.95" font-size="5.8" font-weight="bold" text-anchor="end"  stroke="#111" stroke-width="0.2">-80</text><text x="31.60" y="162.30" font-size="5.8" font-weight="bold" text-anchor="end"  stroke="#111" stroke-width="0.2">-100</text><text x="31.60" y="177.65" font-size="5.8" font-weight="bold" text-anchor="end"  stroke="#111" stroke-width="0.2">-120</text><text x="30.80" y="252.75" font-size="5.8" font-weight="bold" text-anchor="end"  stroke="#111" stroke-width="0.2">40</text><text x="30.80" y="268.03" font-size="5.8" font-weight="bold" text-anchor="end"  stroke="#111" stroke-width="0.2">20</text><text x="30.80" y="283.30" font-size="5.8" font-weight="bold" text-anchor="end"  stroke="#111" stroke-width="0.2">0</text><text x="30.80" y="298.58" font-size="5.8" font-weight="bold" text-anchor="end"  stroke="#111" stroke-width="0.2">-20</text><text x="30.80" y="313.85" font-size="5.8" font-weight="bold" text-anchor="end"  stroke="#111" stroke-width="0.2">-40</text><text x="30.80" y="329.12" font-size="5.8" font-weight="bold" text-anchor="end"  stroke="#111" stroke-width="0.2">-60</text><text x="30.80" y="344.40" font-size="5.8" font-weight="bold" text-anchor="end"  stroke="#111" stroke-width="0.2">-80</text><text x="30.80" y="359.68" font-size="5.8" font-weight="bold" text-anchor="end"  stroke="#111" stroke-width="0.2">-100</text><text x="30.80" y="374.95" font-size="5.8" font-weight="bold" text-anchor="end"  stroke="#111" stroke-width="0.2">-120</text><text x="0" y="0" font-size="5.5" font-weight="bold" text-anchor="middle" textLength="150.4" lengthAdjust="spacingAndGlyphs" stroke="#111" stroke-width="0.2" transform="translate(18.20 115.00) rotate(-90)">Maximum SBP change during hemodialysis- 2nd session, mmHg</text><text x="0" y="0" font-size="5.5" font-weight="bold" text-anchor="middle" textLength="150.4" lengthAdjust="spacingAndGlyphs" stroke="#111" stroke-width="0.2" transform="translate(17.40 313.90) rotate(-90)">Maximum SBP change during hemodialysis- 2nd session, mmHg</text><text x="22.80" y="7.40" font-size="7.5" font-weight="bold" text-anchor="start"  stroke="#111" stroke-width="0.2">2b.</text>
</g></svg></body></html>
